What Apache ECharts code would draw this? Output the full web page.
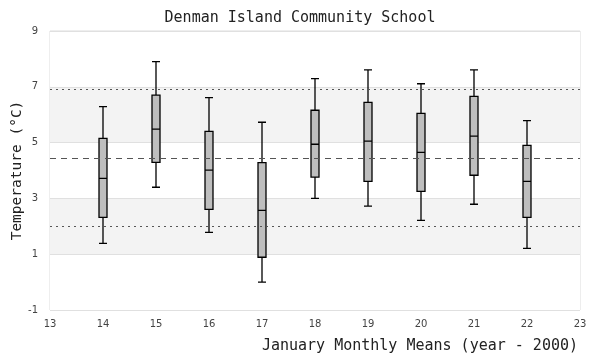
<!DOCTYPE html>
<html><head><meta charset="utf-8">
<script src="https://cdn.jsdelivr.net/npm/echarts@6/dist/echarts.min.js"></script>
<style>html,body{margin:0;padding:0;background:#fff}#c{width:600px;height:360px}</style>
</head><body><div id="c"></div>
<script>
const years = [14, 15, 16, 17, 18, 19, 20, 21, 22];
const whiskerLow = [1.39, 3.40, 1.78, 0.00, 3.00, 2.72, 2.21, 2.79, 1.21];
const q1 = [2.32, 4.29, 2.61, 0.89, 3.76, 3.61, 3.25, 3.83, 2.32];
const median = [3.72, 5.48, 4.01, 2.57, 4.94, 5.05, 4.65, 5.23, 3.61];
const q3 = [5.15, 6.70, 5.40, 4.28, 6.16, 6.44, 6.05, 6.66, 4.90];
const whiskerHigh = [6.29, 7.90, 6.61, 5.73, 7.29, 7.61, 7.11, 7.61, 5.79];
const meanLine = 4.43;
const lowerBand = 2.0;
const upperBand = 6.92;
const xTicks = [13, 23, 1];
const yTicks = [-1, 9, 2];

const boxData = years.map((y, i) => [y, whiskerLow[i], q1[i], median[i], q3[i], whiskerHigh[i]]);
const mono = '"DejaVu Sans Mono", monospace';
const sans = '"DejaVu Sans", sans-serif';

const chart = echarts.init(document.getElementById('c'), null, {renderer: 'canvas'});
chart.setOption({
  animation: false,
  backgroundColor: '#fff',
  title: {
    text: 'Denman Island Community School',
    left: 'center', top: 6,
    textStyle: {fontFamily: mono, fontSize: 15, fontWeight: 'normal', color: '#222'}
  },
  graphic: [{
    type: 'text', right: 22, top: 339, silent: true,
    style: {text: 'January Monthly Means (year - 2000)', font: '15px "DejaVu Sans Mono", monospace', fill: '#222'}
  }],
  grid: {left: 50, right: 20, top: 31, bottom: 50, containLabel: false, outerBoundsMode: 'none',
         show: true, borderColor: '#dcdcdc', borderWidth: 1},
  xAxis: {
    type: 'value', min: xTicks[0], max: xTicks[1], interval: xTicks[2],
    axisLine: {show: false}, axisTick: {show: false},
    splitLine: {show: false},
    axisLabel: {fontFamily: sans, fontSize: 10, color: '#444', margin: 9}
  },
  yAxis: {
    type: 'value', min: yTicks[0], max: yTicks[1], interval: yTicks[2],
    name: 'Temperature (°C)', nameLocation: 'middle', nameGap: 25, nameMoveOverlap: false,
    nameTextStyle: {fontFamily: mono, fontSize: 14.5, color: '#222'},
    axisLine: {show: false}, axisTick: {show: false},
    splitLine: {show: true, lineStyle: {color: '#e0e0e0', width: 1}},
    splitArea: {show: true, areaStyle: {color: ['#ffffff', '#f3f3f3']}},
    axisLabel: {fontFamily: sans, fontSize: 10, color: '#444', margin: 12}
  },
  series: [{
    type: 'boxplot',
    data: boxData,
    boxWidth: [8, 8],
    itemStyle: {color: '#bebebe', borderColor: '#000', borderWidth: 1.3},
    markLine: {
      silent: true, symbol: 'none', label: {show: false},
      data: [
        {yAxis: meanLine, lineStyle: {type: [6, 5], color: '#555', width: 1}},
        {yAxis: lowerBand, lineStyle: {type: [2, 4], color: '#555', width: 1}},
        {yAxis: upperBand, lineStyle: {type: [2, 4], color: '#555', width: 1}}
      ]
    }
  }]
});
</script></body></html>
